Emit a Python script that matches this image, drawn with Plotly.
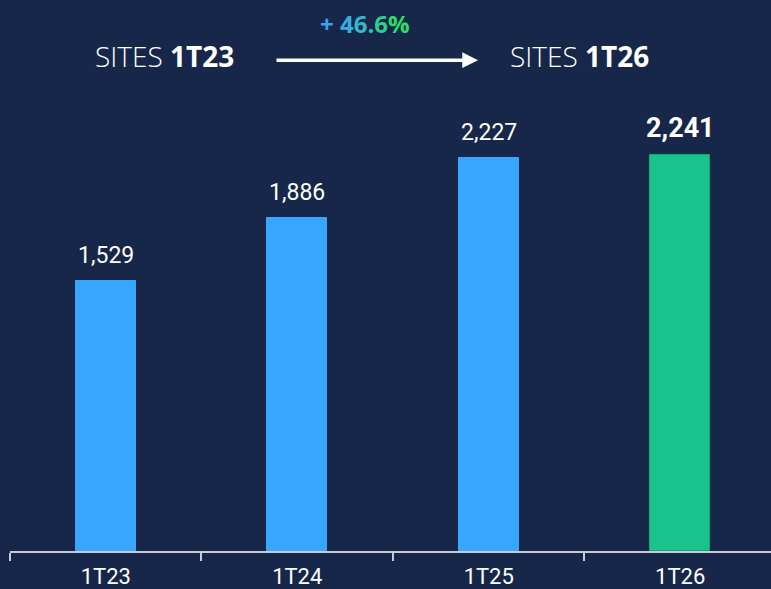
import plotly.graph_objects as go

categories = ["1T23", "1T24", "1T25", "1T26"]
sites = [1529, 1886, 2227, 2241]
bar_colors = ["#38A6FF", "#38A6FF", "#38A6FF", "#19C48C"]
line_colors = ["#38A6FF", "#38A6FF", "#38A6FF", "#12A673"]
growth_label = "+ 46.6%"
start_label = ("SITES", "1T23")
end_label = ("SITES", "1T26")

BG = "#172749"
W, H = 771, 589
L, R, T, B = 10, 0, 100, 36
pw = W - L - R
ph = H - T - B

def px_x(p):
    return (p - L) / pw

def px_y(p):
    return 1 + (T - p) / ph

fig = go.Figure()
fig.add_trace(go.Bar(
    x=categories, y=sites, width=0.315,
    marker=dict(color=bar_colors, line=dict(color=line_colors, width=1)),
    hoverinfo="skip",
))

annotations = []
for i, (c, v) in enumerate(zip(categories, sites)):
    last = i == len(sites) - 1
    txt = f"{v:,}"
    annotations.append(dict(
        x=c, y=v, xref="x", yref="y", showarrow=False,
        text=f"<b>{txt}</b>" if last else txt,
        yanchor="bottom", yshift=9 if last else 10,
        font=dict(family="Roboto", size=27 if last else 23, color="white"),
    ))

# header
for lab, cx in [(start_label, 164), (end_label, 579)]:
    annotations.append(dict(
        x=px_x(cx), y=px_y(56), xref="paper", yref="paper", showarrow=False,
        text=f"<span style='font-weight:300'>{lab[0]}</span> <b>{lab[1]}</b>",
        font=dict(family="Open Sans", size=28, color="white", weight=300),
        xanchor="center", yanchor="middle",
    ))

annotations.append(dict(
    x=px_x(478), y=px_y(60), xref="paper", yref="paper",
    ax=-203, ay=0, showarrow=True, text="",
    arrowhead=2, arrowsize=0.9, arrowwidth=3.5, arrowcolor="white",
))

grad = ["#3AA2F6", "#37AEE2", "#30BBCB", "#2AC6B0", "#29D18E", "#2DDC64", "#33E24A"]
parts = []
ci = 0
for ch in growth_label:
    if ch == " ":
        parts.append(" ")
        continue
    parts.append(f"<span style='color:{grad[min(ci, len(grad)-1)]}'>{ch}</span>")
    ci += 1
annotations.append(dict(
    x=px_x(365), y=px_y(23), xref="paper", yref="paper", showarrow=False,
    text="<b>" + "".join(parts) + "</b>",
    font=dict(family="Open Sans", size=24, color="#33B0E0"),
    xanchor="center", yanchor="middle",
))

fig.update_layout(
    width=W, height=H,
    margin=dict(l=L, r=R, t=T, b=B),
    paper_bgcolor=BG, plot_bgcolor=BG,
    showlegend=False,
    annotations=annotations,
    bargap=0,
)
fig.update_xaxes(
    type="category", range=[-0.5, 3.474],
    showline=True, linecolor="#C8CCD4", linewidth=1.5,
    ticks="outside", tickson="boundaries", ticklen=8, tickcolor="#C8CCD4", tickwidth=1.5,
    ticklabelstandoff=5,
    tickfont=dict(family="Roboto", size=22, color="white"),
    showgrid=False, zeroline=False,
)
fig.update_yaxes(range=[0, 2555], visible=False, showgrid=False, zeroline=False)

fig.write_html(
    "out.html",
    config={"displayModeBar": False},
    post_script="document.body.style.margin='0';document.body.style.background='" + BG + "';",
)
